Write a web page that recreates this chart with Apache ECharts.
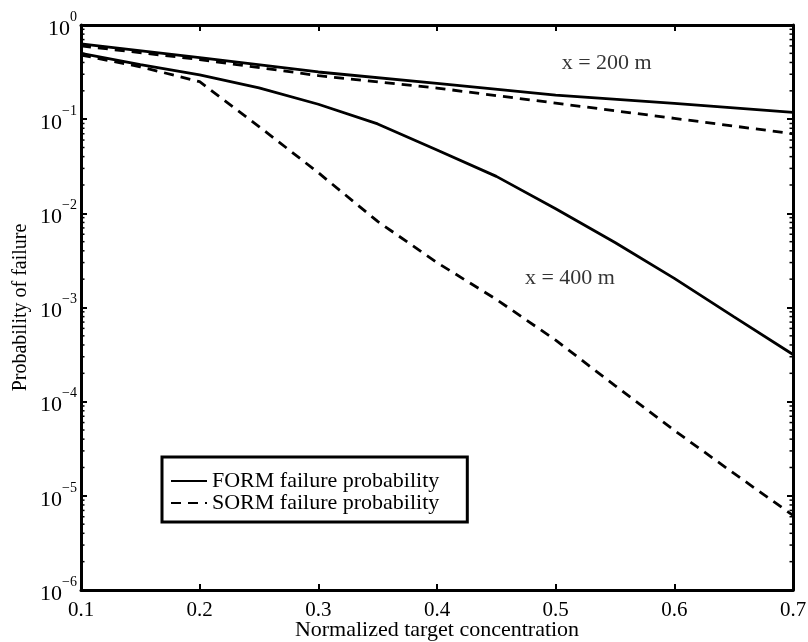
<!DOCTYPE html>
<html>
<head>
<meta charset="utf-8">
<script src="https://cdn.jsdelivr.net/npm/echarts@6/dist/echarts.min.js"></script>
<style>
  html, body { margin: 0; padding: 0; background: #fff; }
  #main { width: 808px; height: 642px; }
</style>
</head>
<body>
<div id="main"></div>
<script>
// data =============================================================================================================
var conc = [0.1, 0.2, 0.3, 0.4, 0.5, 0.6, 0.7];
var form200 = [0.629, 0.45, 0.317, 0.24, 0.18, 0.147, 0.118];
var sorm200 = [0.60, 0.43, 0.29, 0.214, 0.148, 0.102, 0.070];

var conc400 = [0.1, 0.15, 0.2, 0.25, 0.3, 0.35, 0.4, 0.45, 0.5, 0.55, 0.6, 0.65, 0.7];
var form400 = [0.50, 0.38, 0.295, 0.215, 0.144, 0.089, 0.047, 0.0247, 0.0112, 0.0049, 0.00204, 0.00080, 0.000317];
var sorm400 = [0.48, 0.36, 0.25, 0.0835, 0.027, 0.0082, 0.0030, 0.00122, 0.00045, 0.000148, 0.0000495, 0.0000174, 0.0000062];

var notes = [[0.543, 0.395, 'x = 200 m'], [0.512, 0.00207, 'x = 400 m']];

var minorMult = [2, 3, 4, 5, 6, 7, 8, 9];
var decades = [1e-6, 1e-5, 1e-4, 1e-3, 1e-2, 1e-1];

var FONT = '"Liberation Serif", "Times New Roman", serif';

function pairs(xs, ys) {
    return xs.map(function (x, i) { return [x, ys[i]]; });
}

var minorVals = [];
decades.forEach(function (d) {
    minorMult.forEach(function (m) { minorVals.push([0.1, d * m]); });
});

var solid = { color: '#000', width: 2.8, type: 'solid' };
var dashed = { color: '#000', width: 2.8, type: [10, 7] };

function lineSeries(name, data, style) {
    return {
        name: name, type: 'line', data: data, symbol: 'none', showSymbol: false,
        lineStyle: style, itemStyle: { color: '#000' }, silent: true, animation: false, z: 3
    };
}

var axisLine = { show: true, onZero: false, lineStyle: { color: '#000', width: 3 } };
var tick = { show: true, inside: true, length: 6, lineStyle: { color: '#000', width: 2 } };

var chart = echarts.init(document.getElementById('main'), null, { renderer: 'canvas' });
chart.setOption({
    animation: false,
    backgroundColor: '#fff',
    textStyle: { fontFamily: FONT, color: '#000' },
    grid: { left: 81, top: 25, right: 15, bottom: 52, containLabel: false, outerBoundsMode: 'none' },
    legend: {
        data: ['FORM failure probability', 'SORM failure probability'],
        orient: 'vertical', left: 162, top: 457,
        itemWidth: 36, itemHeight: 14, itemGap: 0,
        padding: [13, 28, 8, 8],
        borderColor: '#000', borderWidth: 3, backgroundColor: '#fff',
        itemStyle: { opacity: 0 },
        textStyle: { fontFamily: FONT, fontSize: 22, color: '#000', lineHeight: 22 },
        selectedMode: false
    },
    xAxis: [{
        type: 'value', min: 0.1, max: 0.7, interval: 0.1,
        name: 'Normalized target concentration', nameLocation: 'middle', nameGap: 29,
        nameMoveOverlap: false,
        nameTextStyle: { fontFamily: FONT, fontSize: 22, color: '#000' },
        axisLine: axisLine, axisTick: tick, splitLine: { show: false },
        axisLabel: { fontFamily: FONT, fontSize: 21, color: '#000', margin: 10,
            formatter: function (v) { return v.toFixed(1); } }
    }, {
        type: 'value', min: 0.1, max: 0.7, interval: 0.1, position: 'top',
        axisLine: axisLine, axisTick: tick, axisLabel: { show: false }, splitLine: { show: false }
    }],
    yAxis: [{
        type: 'log', logBase: 10, min: 1e-6, max: 1,
        name: 'Probability of failure', nameLocation: 'middle', nameGap: 50,
        nameMoveOverlap: false,
        nameTextStyle: { fontFamily: FONT, fontSize: 20, color: '#000' },
        axisLine: axisLine, axisTick: tick, splitLine: { show: false },
        axisLabel: {
            margin: 4, color: '#000',
            formatter: function (v) {
                var e = Math.round(Math.log(v) / Math.LN10);
                return '{b|10}{s|' + (e === 0 ? '0' : '\u2212' + (-e)) + '}';
            },
            rich: {
                b: { fontFamily: FONT, fontSize: 22, color: '#000', padding: [8, 0, 0, 0] },
                s: { fontFamily: FONT, fontSize: 14, color: '#000', padding: [0, 0, 16, 0] }
            }
        }
    }, {
        type: 'log', logBase: 10, min: 1e-6, max: 1, position: 'right',
        axisLine: axisLine, axisTick: tick, axisLabel: { show: false }, splitLine: { show: false }
    }],
    series: [
        lineSeries('FORM failure probability', pairs(conc, form200), solid),
        lineSeries('SORM failure probability', pairs(conc, sorm200), dashed),
        lineSeries('FORM failure probability', pairs(conc400, form400), solid),
        lineSeries('SORM failure probability', pairs(conc400, sorm400), dashed),
        {
            // minor log ticks, both sides of the box
            type: 'custom', data: minorVals, silent: true, z: 4, clip: false,
            renderItem: function (params, api) {
                var l = api.coord([0.1, api.value(1)]);
                var r = api.coord([0.7, api.value(1)]);
                return {
                    type: 'group', children: [
                        { type: 'line', shape: { x1: l[0], y1: l[1], x2: l[0] + 3.5, y2: l[1] },
                          style: { stroke: '#000', lineWidth: 1.5 } },
                        { type: 'line', shape: { x1: r[0], y1: r[1], x2: r[0] - 3.5, y2: r[1] },
                          style: { stroke: '#000', lineWidth: 1.5 } }
                    ]
                };
            }
        },
        {
            type: 'scatter', data: notes, symbolSize: 0, silent: true,
            label: { show: true, position: 'inside', fontFamily: FONT, fontSize: 22, color: '#000',
                formatter: function (p) { return p.data[2]; } }
        }
    ]
});
</script>
</body>
</html>
